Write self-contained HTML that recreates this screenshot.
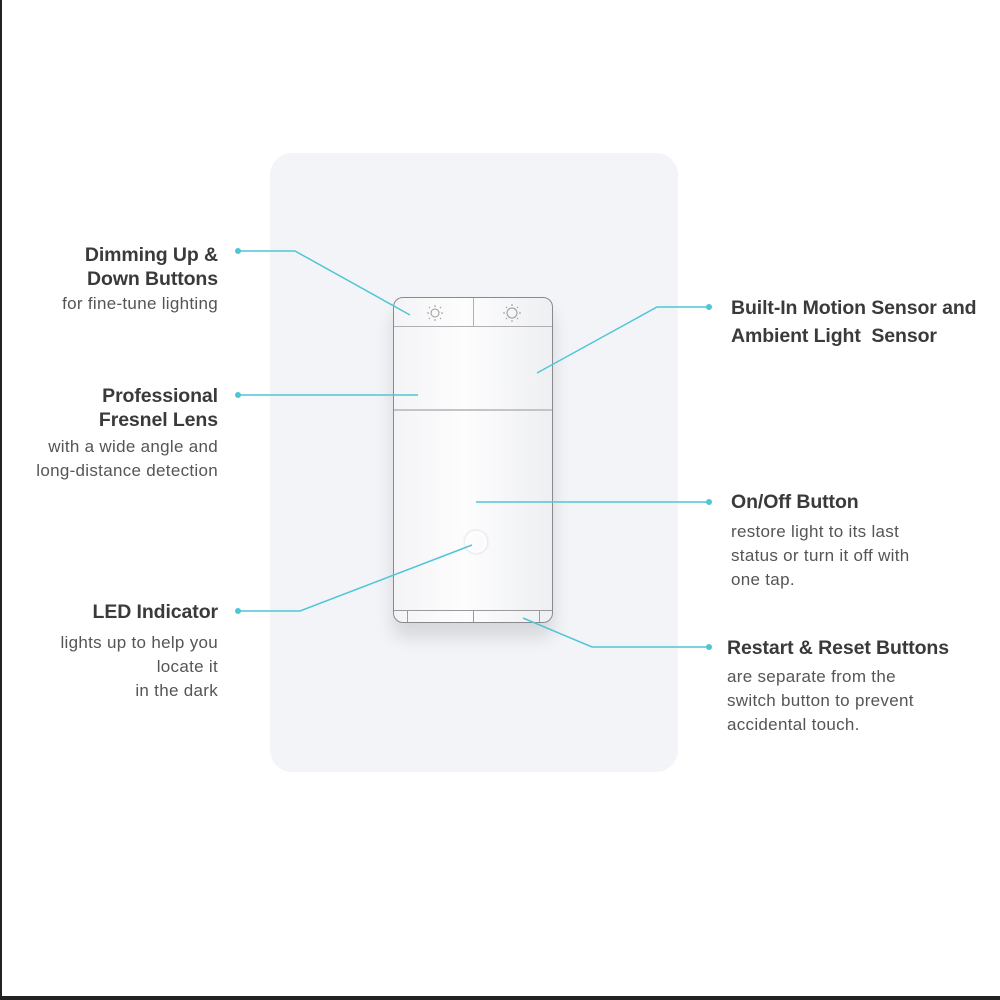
<!DOCTYPE html>
<html><head><style>
body{margin:0;width:1000px;height:1000px;position:relative;background:#fff;overflow:hidden;font-family:"Liberation Sans",sans-serif}
.b{position:absolute;line-height:24px;font-size:19.5px;font-weight:bold;color:#3a3a3a;white-space:nowrap;letter-spacing:-0.1px}
.d{position:absolute;line-height:24px;font-size:17px;color:#555;white-space:nowrap;letter-spacing:0.3px}
.l{right:782px;text-align:right}
.r{left:731px}
</style></head><body>
<div style="position:absolute;left:0;top:0;width:2px;height:1000px;background:#222"></div>
<div style="position:absolute;left:0;top:996px;width:1000px;height:4px;background:#222"></div>
<div style="position:absolute;left:270px;top:153px;width:408px;height:619px;border-radius:22px;background:#f3f4f8"></div>
<div style="position:absolute;left:393px;top:297px;width:160px;height:326px;border-radius:10px;background:linear-gradient(90deg,#f4f4f6,#fdfdfe 45%,#eeeff2);border:1.5px solid #8a8a8e;box-sizing:border-box;box-shadow:0 14px 18px rgba(0,0,0,0.12)"></div>
<div style="position:absolute;left:394px;top:326px;width:158px;height:1px;background:#b0b0b4"></div>
<div style="position:absolute;left:473px;top:298px;width:1px;height:28px;background:#b0b0b4"></div>
<div style="position:absolute;left:394px;top:409px;width:158px;height:2px;background:#c4c4c8"></div>
<div style="position:absolute;left:394px;top:610px;width:158px;height:1px;background:#9a9a9e"></div>
<div style="position:absolute;left:407px;top:611px;width:1px;height:11px;background:#9a9a9e"></div>
<div style="position:absolute;left:473px;top:611px;width:1px;height:11px;background:#9a9a9e"></div>
<div style="position:absolute;left:539px;top:611px;width:1px;height:11px;background:#9a9a9e"></div>
<div style="position:absolute;left:465px;top:531px;width:22px;height:22px;border-radius:50%;border:2px solid #fff;box-sizing:border-box;box-shadow:0 0 3px #ccc"></div>
<svg style="position:absolute;left:0;top:0" width="1000" height="1000">
<g stroke="#999" stroke-width="1" fill="none">
<circle cx="435" cy="313" r="4"/><circle cx="512" cy="313" r="5"/>
<path d="M435 305v2M435 319v2M427 313h2M441 313h2M429 307l1 1M440 318l1 1M441 307l-1 1M430 318l-1 1"/>
<path d="M512 304v2M512 320v2M503 313h2M519 313h2M506 307l1 1M517 318l1 1M518 307l-1 1M507 318l-1 1"/>
</g>
<g stroke="#4fc6d6" stroke-width="1.5" fill="none">
<polyline points="238,251 295,251 410,315"/>
<polyline points="238,395 418,395"/>
<polyline points="238,611 300,611 472,545"/>
<polyline points="709,307 657,307 537,373"/>
<polyline points="709,502 476,502"/>
<polyline points="709,647 592,647 523,618"/>
</g>
<g fill="#4fc6d6">
<circle cx="238" cy="251" r="3"/><circle cx="238" cy="395" r="3"/><circle cx="238" cy="611" r="3"/>
<circle cx="709" cy="307" r="3"/><circle cx="709" cy="502" r="3"/><circle cx="709" cy="647" r="3"/>
</g>
</svg>
<div class="b l" style="top:243px">Dimming Up &amp;</div>
<div class="b l" style="top:267px">Down Buttons</div>
<div class="d l" style="top:292px">for fine-tune lighting</div>
<div class="b l" style="top:384px">Professional</div>
<div class="b l" style="top:408px">Fresnel Lens</div>
<div class="d l" style="top:435px">with a wide angle and</div>
<div class="d l" style="top:459px">long-distance detection</div>
<div class="b l" style="top:600px">LED Indicator</div>
<div class="d l" style="top:631px">lights up to help you</div>
<div class="d l" style="top:655px">locate it</div>
<div class="d l" style="top:679px">in the dark</div>
<div class="b r" style="top:296px">Built-In Motion Sensor and</div>
<div class="b r" style="top:324px">Ambient Light&nbsp; Sensor</div>
<div class="b r" style="top:490px">On/Off Button</div>
<div class="d r" style="top:520px">restore light to its last</div>
<div class="d r" style="top:544px">status or turn it off with</div>
<div class="d r" style="top:568px">one tap.</div>
<div class="b" style="left:727px;top:636px">Restart &amp; Reset Buttons</div>
<div class="d" style="left:727px;top:665px">are separate from the</div>
<div class="d" style="left:727px;top:689px">switch button to prevent</div>
<div class="d" style="left:727px;top:713px">accidental touch.</div>
</body></html>
